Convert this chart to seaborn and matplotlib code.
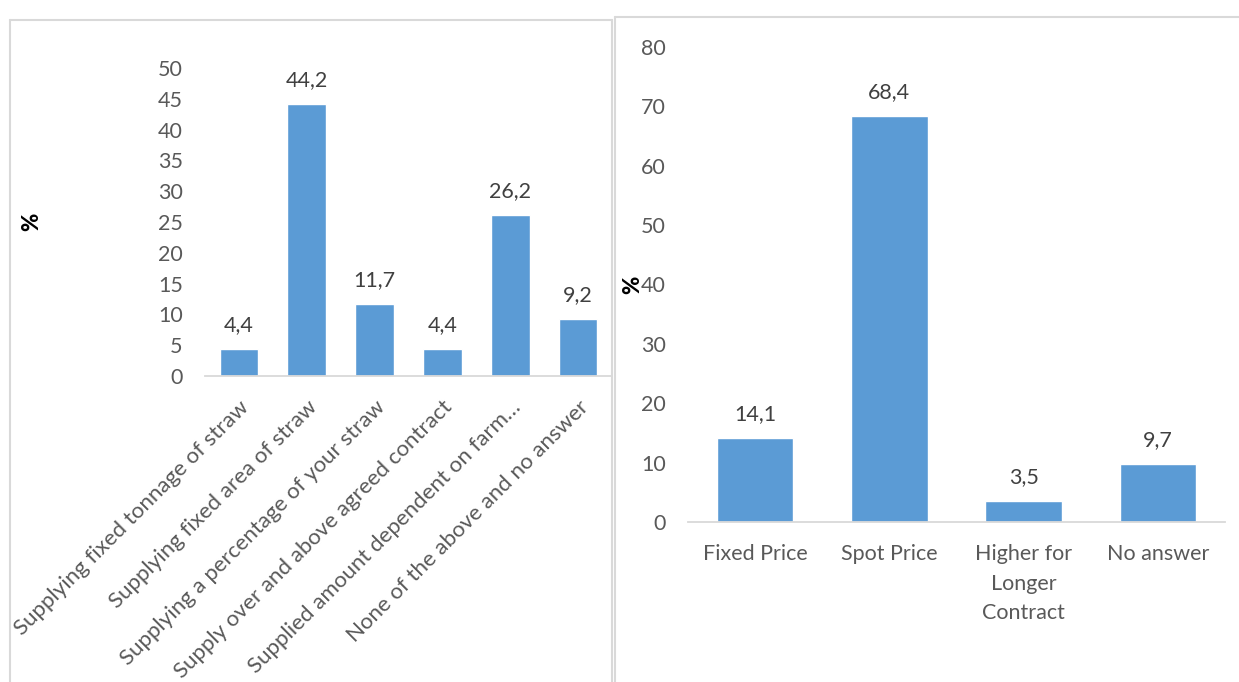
import matplotlib
matplotlib.use("Agg")
import matplotlib.pyplot as plt
import seaborn as sns
import pandas as pd
from matplotlib.lines import Line2D

# ---- data ----
left_categories = [
    "Supplying fixed tonnage of straw",
    "Supplying fixed area of straw",
    "Supplying a percentage of your straw",
    "Supply over and above agreed contract",
    "Supplied amount dependent on farm…",
    "None of the above and no answer",
]
left_values = [4.4, 44.2, 11.7, 4.4, 26.2, 9.2]
left_yticks = [0, 5, 10, 15, 20, 25, 30, 35, 40, 45, 50]

right_categories = ["Fixed Price", "Spot Price", "Higher for\nLonger\nContract", "No answer"]
right_values = [14.1, 68.4, 3.5, 9.7]
right_yticks = [0, 10, 20, 30, 40, 50, 60, 70, 80]

BAR = "#5B9BD5"
TICK = "#595959"
LBL = "#404040"
AXL = "#D9D9D9"

sns.set_theme(style="white")
plt.rcParams["font.family"] = ["Lato", "DejaVu Sans"]

W, H = 1239, 682
fig = plt.figure(figsize=(W / 100, H / 100), dpi=100)
fig.patch.set_facecolor("white")


def fx(px):
    return px / W


def fy(py):
    return 1 - py / H


axL = fig.add_axes([fx(205), fy(376), fx(612) - fx(205), fy(68) - fy(376)])
axR = fig.add_axes([fx(688), fy(522), fx(1225) - fx(688), fy(47) - fy(522)])

dfL = pd.DataFrame({"cat": left_categories, "val": left_values})
dfR = pd.DataFrame({"cat": right_categories, "val": right_values})

sns.barplot(data=dfL, x="cat", y="val", color=BAR, saturation=1, width=0.57, ax=axL)
sns.barplot(data=dfR, x="cat", y="val", color=BAR, saturation=1, width=0.57, ax=axR)

fs = 15.5

for ax, vals, yt, n in [(axL, left_values, left_yticks, 6), (axR, right_values, right_yticks, 4)]:
    ax.set_ylim(yt[0], yt[-1])
    ax.set_xlim(-0.5, n - 0.5)
    ax.set_yticks(yt)
    ax.set_yticklabels([str(t) for t in yt], color=TICK, fontsize=fs)
    for s in ["top", "right", "left"]:
        ax.spines[s].set_visible(False)
    ax.spines["bottom"].set_color(AXL)
    ax.spines["bottom"].set_linewidth(1.3)
    ax.tick_params(axis="both", length=0)
    ax.tick_params(axis="y", pad=16)
    ax.set_xlabel("")
    ax.set_facecolor("none")
    ax.bar_label(ax.containers[0], labels=[f"{v:.1f}".replace(".", ",") for v in vals],
                 padding=10, color=LBL, fontsize=fs)
    ax.set_ylabel("%", fontsize=16, fontweight="black", color="black")

axL.set_xticks(range(6))
axL.set_xticklabels(left_categories, rotation=45, ha="right", rotation_mode="anchor",
                    color=TICK, fontsize=16)
axL.tick_params(axis="x", pad=15)
axL.yaxis.set_label_coords((42 - 205) / 407, 0.5)

axR.set_xticks(range(4))
axR.set_xticklabels(right_categories, color=TICK, fontsize=fs, linespacing=1.6, va="top")
axR.tick_params(axis="x", pad=16)
axR.yaxis.set_label_coords((643 - 688) / 537, 0.5)

# panel borders
for (x0, y0, x1, y1) in [
    (10, 20, 612, 20), (10, 20, 10, 690), (612, 20, 612, 690),
    (615, 17, 1245, 17), (615, 17, 615, 690),
]:
    fig.add_artist(Line2D([fx(x0), fx(x1)], [fy(y0), fy(y1)], color=AXL, lw=1.5))

fig.savefig("out.png", dpi=100, facecolor="white")
